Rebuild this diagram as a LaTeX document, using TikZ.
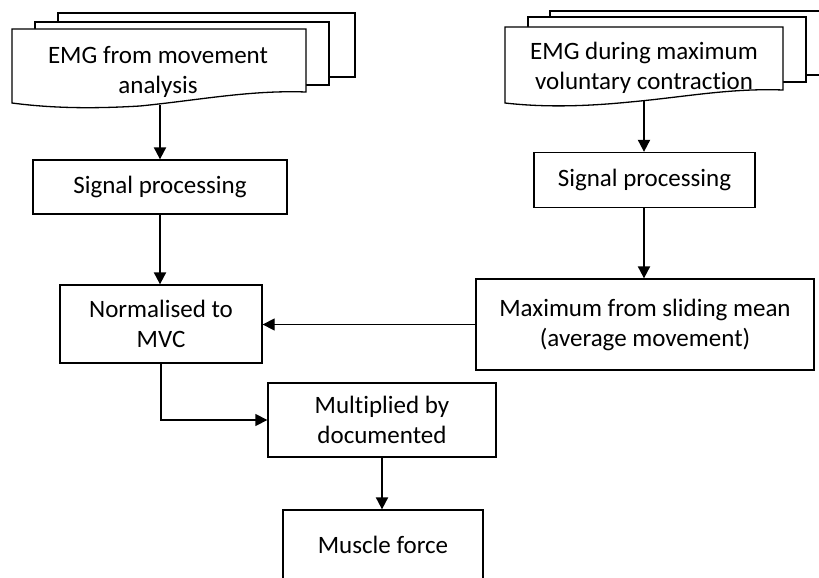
\documentclass[tikz,border=0pt]{standalone}
\usepackage{fontspec}
\setmainfont{Carlito}[Ligatures={NoCommon}]
\usetikzlibrary{arrows.meta}
\begin{document}
\begin{tikzpicture}[x=1pt,y=-1pt,
  box/.style={draw, line width=1.3pt, fill=white, inner sep=0pt, align=center,
    font=\fontsize{25}{30}\selectfont},
  txt/.style={inner sep=0pt, align=center, font=\fontsize{25}{30}\selectfont},
  page/.style={draw, line width=1.3pt, fill=white},
  arr/.style={line width=2pt, -{Triangle[length=12pt,width=12pt]}},
  thinarr/.style={line width=1.3pt, -{Triangle[length=12pt,width=12pt]}}]
\useasboundingbox (0,0) rectangle (819,578);
\clip (0,0) rectangle (819,578);
% left multidocument
\draw[page] (58,13) rectangle (355,77);
\draw[page] (35,22) rectangle (329,85);
\draw[page] (12,29) -- (306,29) -- (306,92)
  .. controls (250,90) and (200,100) .. (140,106)
  .. controls (90,109) and (50,108) .. (12,103) -- cycle;
\node[txt] (doc1) at (158,72) {EMG from movement\\analysis};
\coordinate (d1b) at (160,105);
% right multidocument
\draw[page] (550,11) rectangle (850,75);
\draw[page] (528,17) rectangle (806,82);
\draw[page] (505,27) -- (783,27) -- (783,90)
  .. controls (730,88) and (685,97) .. (630,102)
  .. controls (580,107) and (540,107) .. (505,103) -- cycle;
\node[txt] (doc2) at (644,68) {EMG during maximum\\voluntary contraction};
\coordinate (d2b) at (644,101);
% boxes
\node[box, minimum width=254pt, minimum height=54pt] (sp1) at (160,187) {Signal processing};
\node[box, minimum width=202pt, minimum height=78pt] (norm) at (161,324) {Normalised to\\MVC};
\node[box, minimum width=221pt, minimum height=55pt] (sp2) at (644.5,180) {Signal processing};
\node[box, minimum width=338pt, minimum height=91pt] (max) at (645,324.5) {Maximum from sliding mean\\(average movement)};
\node[box, minimum width=228pt, minimum height=74pt] (mult) at (382,420) {\raisebox{-2pt}{Multiplied by}\\\raisebox{-2pt}{documented}};
\node[box, minimum width=200pt, minimum height=70pt] (force) at (383,545) {Muscle force};
% connectors
\draw[arr] (d1b) -- (sp1.north);
\draw[arr] (sp1.south) -- (norm.north -| sp1.south);
\draw[arr] (d2b) -- (sp2.north -| d2b);
\draw[arr] (sp2.south -| d2b) -- (max.north -| d2b);
\draw[thinarr] (max.west) -- (max.west -| norm.east);
\draw[thinarr] (norm.south) |- (mult.west);
\draw[arr] (mult.south) -- (force.north -| mult.south);
\end{tikzpicture}
\end{document}
